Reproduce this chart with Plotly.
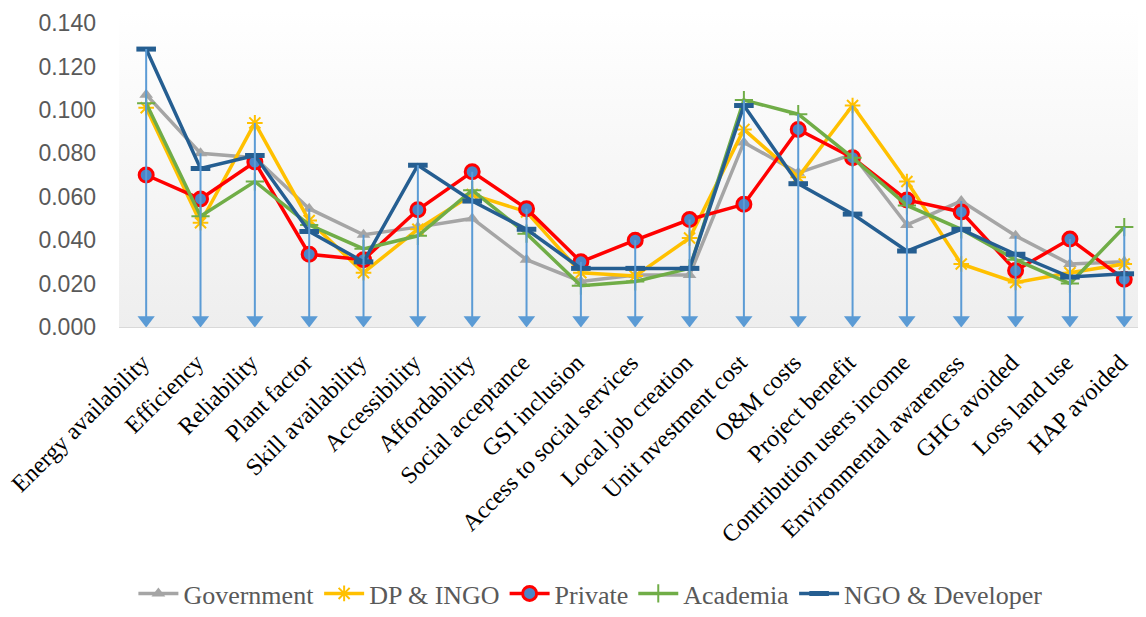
import plotly.graph_objects as go

categories = ["Energy availability", "Efficiency", "Reliability", "Plant factor",
              "Skill availability", "Accessibility", "Affordability", "Social acceptance",
              "GSI inclusion", "Access to social services", "Local job creation",
              "Unit nvestment cost", "O&M costs", "Project benefit",
              "Contribution users income", "Environmental awareness", "GHG avoided",
              "Loss land use", "HAP avoided"]

government = [0.107, 0.080, 0.078, 0.0545, 0.0425, 0.046, 0.050, 0.031, 0.021, 0.024,
              0.024, 0.085, 0.071, 0.0795, 0.047, 0.058, 0.042, 0.029, 0.030]
dp_ingo    = [0.101, 0.048, 0.094, 0.049, 0.025, 0.045, 0.061, 0.053, 0.025, 0.0235,
              0.041, 0.091, 0.069, 0.102, 0.067, 0.029, 0.0205, 0.025, 0.029]
private    = [0.070, 0.059, 0.076, 0.0335, 0.031, 0.054, 0.0715, 0.0545, 0.030, 0.040,
              0.0495, 0.0565, 0.091, 0.078, 0.0585, 0.053, 0.026, 0.0405, 0.022]
academia   = [0.103, 0.051, 0.067, 0.047, 0.036, 0.042, 0.063, 0.043, 0.019, 0.021,
              0.027, 0.1045, 0.098, 0.078, 0.056, 0.045, 0.031, 0.020, 0.046]
ngo_dev    = [0.128, 0.073, 0.079, 0.044, 0.030, 0.0745, 0.058, 0.045, 0.027, 0.027,
              0.027, 0.102, 0.066, 0.052, 0.035, 0.045, 0.0335, 0.023, 0.0245]

series = [
    ("Government", government, "#a5a5a5", dict(symbol="triangle-up", size=12, color="#a5a5a5")),
    ("DP & INGO", dp_ingo, "#ffc000", dict(symbol="asterisk-open", size=13, color="#ffc000",
                                           line=dict(color="#ffc000", width=2))),
    ("Private", private, "#ff0000", dict(symbol="circle", size=14, color="#4a86c8",
                                         line=dict(color="#ff0000", width=3))),
    ("Academia", academia, "#70ad47", dict(symbol="cross-thin-open", size=13, color="#70ad47",
                                           line=dict(color="#70ad47", width=2))),
    ("NGO & Developer", ngo_dev, "#255e91", dict(symbol="line-ew-open", size=14, color="#255e91",
                                                 line=dict(color="#255e91", width=5))),
]

fig = go.Figure()

n = len(categories)
idx = list(range(n))

# plot-area gradient background
fig.add_trace(go.Scatter(
    x=[-0.5, 18.4, 18.4, -0.5, -0.5], y=[0, 0, 0.146, 0.146, 0],
    mode="lines", line=dict(width=0), fill="toself",
    fillgradient=dict(type="vertical", colorscale=[[0, "#eeeeee"], [1, "#ffffff"]]),
    hoverinfo="skip", showlegend=False))

for name, vals, col, mk in series:
    fig.add_trace(go.Scatter(x=idx, y=vals, name=name, mode="lines+markers",
                             line=dict(color=col, width=3.5), marker=mk))

# drop lines from highest value down to the axis
tops = [max(v) for v in zip(government, dp_ingo, private, academia, ngo_dev)]
dx, dy = [], []
for i, t in zip(idx, tops):
    dx += [i, i, None]
    dy += [t, 0.004, None]
fig.add_trace(go.Scatter(x=dx, y=dy, mode="lines", line=dict(color="#5b9bd5", width=2),
                         showlegend=False, hoverinfo="skip"))
fig.add_trace(go.Scatter(x=idx, y=[0.0032] * n, mode="markers",
                         marker=dict(symbol="triangle-down", size=15, color="#5b9bd5"),
                         showlegend=False, hoverinfo="skip"))

fig.update_layout(
    width=1138, height=609,
    margin=dict(l=111, r=0, t=2, b=285),
    paper_bgcolor="white", plot_bgcolor="white",
    font=dict(family="Liberation Serif, Times New Roman, serif", color="#595959"),
    xaxis=dict(range=[-0.5, 18.4], tickmode="array", tickvals=idx, ticktext=categories,
               tickangle=-45, showgrid=False, zeroline=False, showline=True,
               linecolor="#d9d9d9", linewidth=1, ticks="", automargin=False,
               ticklabelstandoff=11, ticklabelshift=-4, ticklabeloverflow="allow",
               tickfont=dict(family="Liberation Serif", size=24, color="black")),
    yaxis=dict(range=[0, 0.146], tickvals=[0, 0.02, 0.04, 0.06, 0.08, 0.10, 0.12, 0.14],
               tickformat=".3f", showgrid=False, zeroline=False, showline=False,
               ticklabelstandoff=22, automargin=False,
               tickfont=dict(family="Liberation Sans", size=23, color="#595959")),
    legend=dict(orientation="h", x=0.459, y=-0.842,
                xanchor="center", yanchor="middle",
                font=dict(family="Liberation Serif, Times New Roman, serif", size=26,
                          color="#595959"),
                itemwidth=40, traceorder="normal"),
    showlegend=True,
)

fig.write_html("out.html")
